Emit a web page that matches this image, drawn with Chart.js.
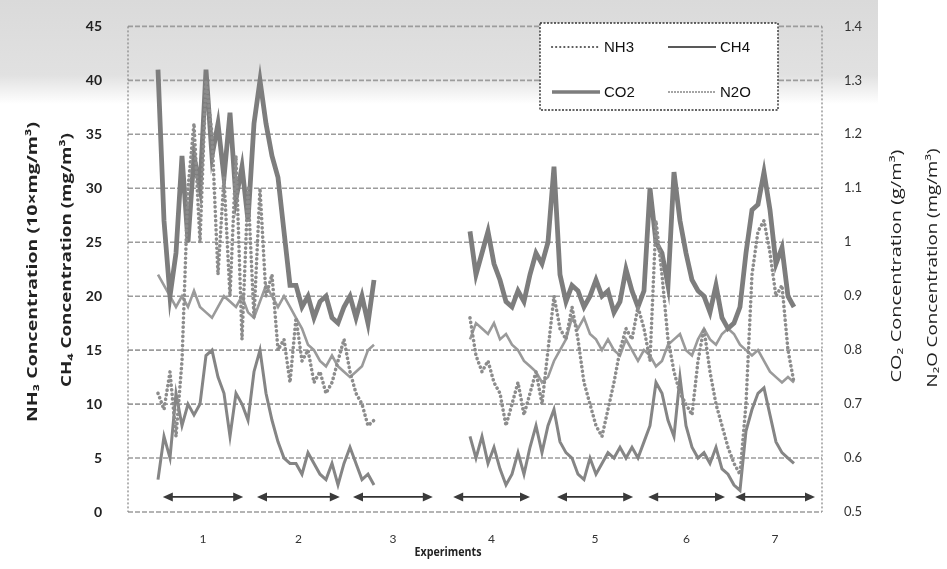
<!DOCTYPE html>
<html>
<head>
<meta charset="utf-8">
<script src="https://cdn.jsdelivr.net/npm/chart.js@4.4.0/dist/chart.umd.min.js"></script>
<style>
html,body{margin:0;padding:0;background:#fff;}
#wrap{position:relative;width:947px;height:569px;overflow:hidden;}
#band{position:absolute;left:0;top:0;width:878px;height:104px;
  background:linear-gradient(to bottom,#dadada 0,#e1e1e1 72%,rgba(255,255,255,0) 100%);}
canvas{position:absolute;left:0;top:0;}
</style>
</head>
<body>
<div id="wrap"><div id="band"></div><canvas id="c" width="947" height="569"></canvas></div>
<script>
/* ===================== DATA ===================== */
// sample index where each measuring block starts (exp 1-3, exp 4-7)
const seg1Start = 5;
const seg2Start = 57;

// NH3 (10x mg/m3) - left axis
const nh3A = [11,9.5,13,7,14,30,36,25,40,35, 22,31,20,33,16,30,18,30,20,22,
              15,16,12,18,14,15,12,13,11,12, 14,16,13,11,10,8,8.5];
const nh3B = [18,14.5,13,14,12,11,8,10,12,9, 11,13,10,15,20,17,16,19,16,12,
              10,8,7,9.5,12,15,17,16,19,17, 14,27,22,16,13,11,10,9,14,17,
              13,10,8,6,4.5,3.5,10,22,26,27, 24,20,21,15,12];
// CH4 (mg/m3) - left axis
const ch4A = [3,7,5,11,8,10,9,10,14.5,15, 12.5,11,7,11,10,8.5,13,15,11,8.5,
              6.5,5,4.5,4.5,3.5,5.5,4.5,3.5,3,4.5, 2.5,4.5,6,4.5,3,3.5,2.5];
const ch4B = [7,5,7,4.5,6,4,2.5,3.5,5.5,3.5, 6,8,5.5,8,9.5,6.5,5.5,5,3.5,3,
              5,3.5,4.5,5.5,5,6,5,6,5,6.5, 8,12,11,8.5,7,12.5,8,6,5,5.5,
              4.5,6,4,3.5,2.5,2,7.5,9.5,11,11.5, 9,6.5,5.5,5,4.5];
// CO2 (g/m3) - right axis
const co2A = [1.32,1.04,0.90,0.98,1.16,1.00,1.16,1.10,1.32,1.16, 1.22,1.12,1.24,1.08,1.14,1.04,1.22,1.30,1.22,1.16,
              1.12,1.02,0.92,0.92,0.88,0.90,0.86,0.89,0.90,0.86, 0.85,0.88,0.90,0.86,0.90,0.85,0.93];
const co2B = [1.02,0.94,0.98,1.02,0.96,0.93,0.89,0.88,0.91,0.89, 0.94,0.98,0.96,1.00,1.14,0.94,0.89,0.92,0.91,0.88,
              0.90,0.93,0.90,0.91,0.87,0.89,0.95,0.91,0.88,0.91, 1.10,1.00,0.98,0.92,1.13,1.04,0.98,0.93,0.91,0.90,
              0.87,0.92,0.86,0.84,0.85,0.88,0.98,1.06,1.07,1.13, 1.06,0.96,0.99,0.90,0.88];
// N2O (mg/m3) - right axis
const n2oA = [0.94,0.92,0.90,0.88,0.90,0.88,0.91,0.88,0.87,0.86, 0.88,0.90,0.89,0.88,0.90,0.87,0.86,0.89,0.92,0.90,
              0.88,0.90,0.88,0.86,0.84,0.81,0.80,0.78,0.77,0.79, 0.77,0.76,0.75,0.76,0.77,0.80,0.81];
const n2oB = [0.82,0.85,0.84,0.83,0.85,0.82,0.83,0.81,0.80,0.78, 0.77,0.76,0.74,0.75,0.78,0.80,0.82,0.86,0.84,0.86,
              0.83,0.82,0.80,0.82,0.80,0.79,0.82,0.80,0.78,0.80, 0.79,0.77,0.78,0.81,0.82,0.83,0.80,0.79,0.82,0.84,
              0.82,0.81,0.83,0.84,0.83,0.81,0.80,0.79,0.80,0.78, 0.76,0.75,0.74,0.75,0.74];

// experiment periods (sample index from/to) and their labels
const expSpans  = [[5.8,19.2],[21.5,35.3],[37.5,50.8],[54.2,67],[71.5,84.2],[86.7,99.5],[101.2,114.5]];
const expLabels = ['1','2','3','4','5','6','7'];
const arrowLevel = 1.4;   // on left axis

const leftTicks  = {min:0, max:45, step:5};
const rightTicks = {min:0.5, max:1.4, step:0.1};
const xRange = {min:0, max:115.67};

/* ===================== HELPERS ===================== */
function pts(a, b){
  const out=[];
  a.forEach((v,i)=>out.push({x:seg1Start+i, y:v}));
  out.push({x:(seg1Start+a.length+seg2Start)/2, y:null});
  b.forEach((v,i)=>out.push({x:seg2Start+i, y:v}));
  return out;
}
// draw text centred at 0,0 and stretched along its baseline to `len` px
function stretchText(ctx, text, len, font){
  ctx.font=font;
  const w=ctx.measureText(text).width;
  ctx.scale(len/w,1);
  ctx.fillText(text,0,0);
}

/* dashed grid + frame */
const framePlugin = {
  id:'frame',
  beforeDatasetsDraw(c){
    const ctx=c.ctx, a=c.chartArea, ys=c.scales.y;
    ctx.save();
    ctx.lineWidth=1.6;
    ctx.strokeStyle='#9c9c9c'; ctx.setLineDash([5,2]);
    for(let v=leftTicks.min; v<=leftTicks.max+1e-9; v+=leftTicks.step){
      const py=ys.getPixelForValue(v);
      ctx.beginPath(); ctx.moveTo(a.left,py); ctx.lineTo(a.right,py); ctx.stroke();
    }
    ctx.lineWidth=1.3;
    ctx.strokeStyle='#8a8a8a'; ctx.setLineDash([2,2]);
    [a.left,a.right].forEach(px=>{
      ctx.beginPath(); ctx.moveTo(px,a.top); ctx.lineTo(px,a.bottom); ctx.stroke();
    });
    ctx.restore();
  }
};

const legendPlugin = {
  id:'boxLegend',
  afterDraw(c){
    const ctx=c.ctx, bx=540, by=23, bw=238, bh=87;
    ctx.save();
    ctx.fillStyle='#fff'; ctx.fillRect(bx,by,bw,bh);
    ctx.setLineDash([2,1.5]); ctx.strokeStyle='#333'; ctx.lineWidth=1.4;
    ctx.strokeRect(bx,by,bw,bh);
    const cells=[[552,47],[668,47],[552,92],[668,92]];
    c.data.datasets.forEach((ds,i)=>{
      const [sx,sy]=cells[i];
      ctx.save();
      ctx.strokeStyle=ds.legendColor||ds.borderColor;
      ctx.lineWidth=ds.legendWidth||ds.borderWidth;
      ctx.lineCap=ds.borderCapStyle||'butt';
      ctx.setLineDash(ds.legendDash||ds.borderDash||[]);
      ctx.beginPath(); ctx.moveTo(sx,sy); ctx.lineTo(sx+48,sy); ctx.stroke();
      ctx.restore();
      ctx.fillStyle='#111'; ctx.font='15px "Liberation Sans", Arial, sans-serif';
      ctx.textAlign='left'; ctx.textBaseline='middle';
      ctx.fillText(ds.label, sx+52, sy+1);
    });
    ctx.restore();
  }
};

const arrowPlugin = {
  id:'expArrows',
  afterDatasetsDraw(c){
    const xs=c.scales.x, ys=c.scales.y, ctx=c.ctx;
    const yy=ys.getPixelForValue(arrowLevel);
    ctx.save();
    ctx.strokeStyle='#333'; ctx.fillStyle='#3a3a3a'; ctx.lineWidth=1.6;
    const head=(xp,dir)=>{
      ctx.beginPath(); ctx.moveTo(xp,yy); ctx.lineTo(xp-dir*10,yy-4.5); ctx.lineTo(xp-dir*10,yy+4.5);
      ctx.closePath(); ctx.fill();
    };
    expSpans.forEach(([a,b])=>{
      const x0=xs.getPixelForValue(a), x1=xs.getPixelForValue(b);
      ctx.beginPath(); ctx.moveTo(x0+8,yy); ctx.lineTo(x1-8,yy); ctx.stroke();
      head(x0,-1); head(x1,1);
    });
    ctx.restore();
  }
};

const titlePlugin = {
  id:'axisTitles',
  afterDraw(c){
    const ctx=c.ctx;
    const vtext=(t,x,y,len,font)=>{
      ctx.save();
      ctx.translate(x,y); ctx.rotate(-Math.PI/2);
      ctx.fillStyle='#222'; ctx.textAlign='center'; ctx.textBaseline='middle';
      stretchText(ctx,t,len,font); ctx.restore();
    };
    vtext('NH\u2083 Concentration (10\u00d7mg/m\u00b3)', 33, 272, 300, 'bold 14px "Open Sans"');
    vtext('CH\u2084 Concentration (mg/m\u00b3)', 67, 260, 254, 'bold 14px "Open Sans"');
    vtext('CO\u2082 Concentration (g/m\u00b3)', 897, 266, 233, '14px "Open Sans"');
    vtext('N\u2082O Concentration (mg/m\u00b3)', 933, 268, 239, '14px "Open Sans"');
    ctx.save();
    ctx.translate(448,552);
    ctx.fillStyle='#222'; ctx.textAlign='center'; ctx.textBaseline='middle';
    stretchText(ctx,'Experiments',67,'bold 13px "Open Sans"');
    ctx.restore();
  }
};

/* ===================== CHART ===================== */
Chart.defaults.font.family='Lato';
new Chart(document.getElementById('c'), {
  type:'line',
  data:{
    datasets:[
      { label:'NH3', yAxisID:'y', data:pts(nh3A,nh3B), borderColor:'#8c8c8c', borderWidth:3.6,
        borderDash:[0.1,4.5], borderCapStyle:'round', legendColor:'#555', legendWidth:2.2, legendDash:[0.1,4] },
      { label:'CH4', yAxisID:'y', data:pts(ch4A,ch4B), borderColor:'#858585', borderWidth:3,
        legendColor:'#222', legendWidth:1.4 },
      { label:'CO2', yAxisID:'y1', data:pts(co2A,co2B), borderColor:'#7d7d7d', borderWidth:4.8,
        legendWidth:3.5 },
      { label:'N2O', yAxisID:'y1', data:pts(n2oA,n2oB), borderColor:'#9a9a9a', borderWidth:2.6,
        legendColor:'#888', legendWidth:1.6, legendDash:[2,1] }
    ]
  },
  options:{
    responsive:false, animation:false, devicePixelRatio:1,
    layout:{padding:{top:17,left:0,right:0,bottom:0}},
    elements:{point:{radius:0}, line:{tension:0}},
    plugins:{legend:{display:false}, tooltip:{enabled:false}},
    scales:{
      x:{
        type:'linear', min:xRange.min, max:xRange.max,
        grid:{display:false}, border:{display:false},
        afterFit:s=>{s.height=57;},
        afterBuildTicks:s=>{ s.ticks=expSpans.map(sp=>({value:(sp[0]+sp[1])/2})); },
        ticks:{autoSkip:false, maxRotation:0, padding:12, color:'#333', font:{size:12},
               callback:(v,i)=>expLabels[i]}
      },
      y:{
        position:'left', min:leftTicks.min, max:leftTicks.max,
        afterFit:s=>{s.width=128;},
        grid:{display:false}, border:{display:false},
        ticks:{stepSize:leftTicks.step, padding:18, color:'#222', font:{size:14, weight:'bold'}}
      },
      y1:{
        position:'right', min:rightTicks.min, max:rightTicks.max,
        afterFit:s=>{s.width=125;},
        grid:{display:false}, border:{display:false},
        ticks:{stepSize:rightTicks.step, padding:14, color:'#333', font:{size:13},
               callback:v=>String(+(+v).toFixed(1))}
      }
    }
  },
  plugins:[framePlugin, arrowPlugin, legendPlugin, titlePlugin]
});
</script>
</body>
</html>
